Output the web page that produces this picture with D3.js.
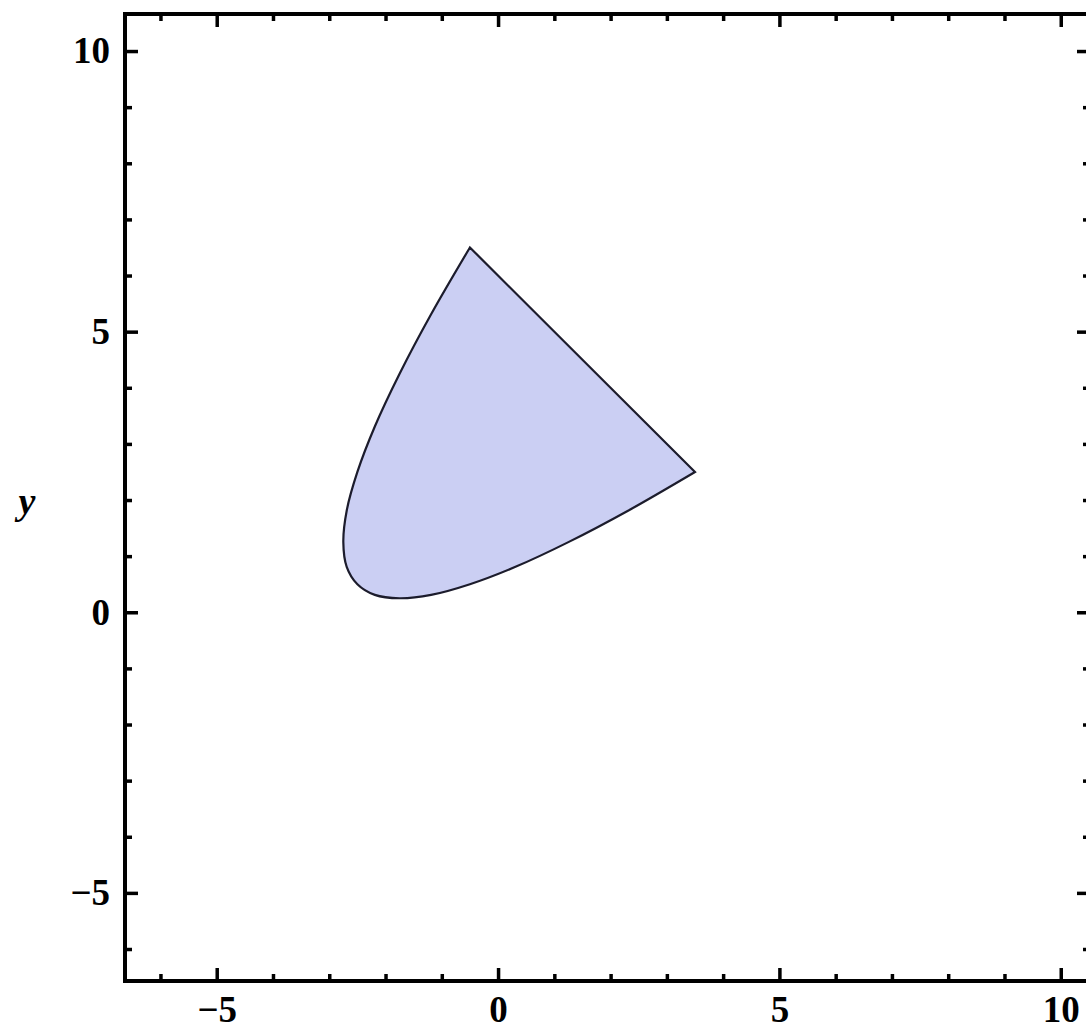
<!DOCTYPE html>
<html>
<head>
<meta charset="utf-8">
<script src="https://cdn.jsdelivr.net/npm/d3@7"></script>
<style>
  body { margin: 0; background: #fff; }
  svg { display: block; }
  .tick text { font-family: "Liberation Serif", "DejaVu Serif", serif; font-size: 37px; font-weight: bold; fill: #000; }
</style>
</head>
<body>
<div id="chart"></div>
<script>
// boundary of the shaded region (curved part, from right corner to top corner)
var curveX = [3.5, 2.31, 1.25, 0.31, -0.5, -1.19, -1.75, -2.19, -2.5, -2.69, -2.75, -2.69, -2.5, -2.19, -1.75, -1.19, -0.5];
var curveY = [2.5, 1.81, 1.25, 0.81, 0.5, 0.31, 0.25, 0.31, 0.5, 0.81, 1.25, 1.81, 2.5, 3.31, 4.25, 5.31, 6.5];

var majorTicks = [-5, 0, 5, 10];
var minorTicks = [-6, -4, -3, -2, -1, 1, 2, 3, 4, 6, 7, 8, 9];
var xRange = [-6.63, 10.52];
var yRange = [-6.57, 10.66];
var yLabel = "y";

var svgWidth = 1086;
var svgHeight = 1030;

var margin = {
    top: 14,
    bottom: 49,
    right: -4,
    left: 125
};

var width = svgWidth - margin.left - margin.right;
var height = svgHeight - margin.top - margin.bottom;

var svg = d3.select("#chart")
    .append("svg")
    .attr("width", svgWidth)
    .attr("height", svgHeight);

var chartGroup = svg.append("g")
    .attr("transform", `translate(${margin.left}, ${margin.top})`);

var xScale = d3.scaleLinear().domain(xRange).range([0, width]);
var yScale = d3.scaleLinear().domain(yRange).range([height, 0]);

// shaded region: curved edge plus straight closing edge
var points = curveX.map((x, i) => [x, curveY[i]]);
var line = d3.line()
    .x(d => xScale(d[0]))
    .y(d => yScale(d[1]))
    .curve(d3.curveCatmullRom);

chartGroup.append("path")
    .attr("d", line(points) + "Z")
    .attr("fill", "#cbcff3")
    .attr("stroke", "#1c1c2c")
    .attr("stroke-width", 2.2)
    .attr("stroke-linejoin", "miter");

// axes with inward ticks, major + minor
function styleAxis(g) {
    g.select(".domain").remove();
    g.selectAll("line").attr("stroke", "#000").attr("stroke-width", 3.5);
}

chartGroup.append("g")
    .attr("transform", `translate(0, ${height})`)
    .call(d3.axisBottom(xScale).tickValues(majorTicks).tickSize(-13).tickPadding(15).tickFormat(d3.format("d")))
    .call(styleAxis);
chartGroup.append("g")
    .attr("transform", `translate(0, ${height})`)
    .call(d3.axisBottom(xScale).tickValues(minorTicks).tickSize(-7).tickFormat(""))
    .call(styleAxis);

chartGroup.append("g")
    .call(d3.axisTop(xScale).tickValues(majorTicks).tickSize(-13).tickFormat(""))
    .call(styleAxis);
chartGroup.append("g")
    .call(d3.axisTop(xScale).tickValues(minorTicks).tickSize(-7).tickFormat(""))
    .call(styleAxis);

chartGroup.append("g")
    .call(d3.axisLeft(yScale).tickValues(majorTicks).tickSize(-13).tickPadding(15).tickFormat(d3.format("d")))
    .call(styleAxis);
chartGroup.append("g")
    .call(d3.axisLeft(yScale).tickValues(minorTicks).tickSize(-7).tickFormat(""))
    .call(styleAxis);

chartGroup.append("g")
    .attr("transform", `translate(${width}, 0)`)
    .call(d3.axisRight(yScale).tickValues(majorTicks).tickSize(-13).tickFormat(""))
    .call(styleAxis);
chartGroup.append("g")
    .attr("transform", `translate(${width}, 0)`)
    .call(d3.axisRight(yScale).tickValues(minorTicks).tickSize(-7).tickFormat(""))
    .call(styleAxis);

// frame
chartGroup.append("rect")
    .attr("width", width)
    .attr("height", height)
    .attr("fill", "none")
    .attr("stroke", "#000")
    .attr("stroke-width", 4);

// y label, horizontal
svg.append("text")
    .attr("x", 27)
    .attr("y", 514)
    .attr("text-anchor", "middle")
    .attr("font-family", "Liberation Serif, serif")
    .attr("font-style", "italic")
    .attr("font-weight", "bold")
    .attr("font-size", "38px")
    .attr("fill", "#000")
    .text(yLabel);
</script>
</body>
</html>
